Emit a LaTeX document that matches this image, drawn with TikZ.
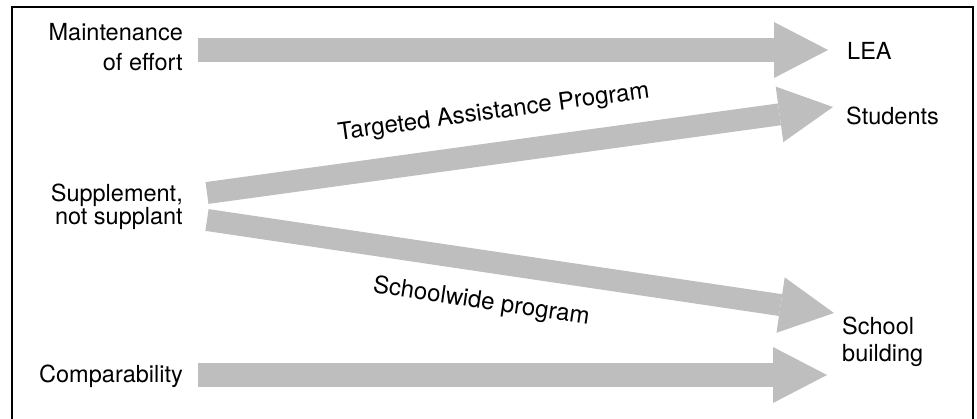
\documentclass[tikz,border=0pt]{standalone}
\usepackage{fontspec}
\setmainfont{TeX Gyre Heros}
\usetikzlibrary{arrows.meta}

\definecolor{flowgray}{RGB}{190,190,190}

\begin{document}
\begin{tikzpicture}[x=1pt, y=-1pt,
    lbl/.style={inner sep=0pt, font=\fontsize{23.5}{30}\selectfont},
    flow/.style={draw=flowgray, line width=24pt,
      -{Triangle[length=54pt, width=56pt, line width=0pt]}}]
  \useasboundingbox (0,0) rectangle (977,419);
  % Frame
  \draw[line width=1.2pt] (12,7) rectangle (973,430);
  % Requirements
  \node[lbl, anchor=east, align=right] (moe) at (183,47) {Maintenance\\of effort};
  \node[lbl, anchor=east, align=right, font=\fontsize{23.5}{23}\selectfont] (snsp) at (183,207) {Supplement,\\not supplant};
  \node[lbl, anchor=east] (comp) at (183,376) {Comparability};
  % Targets
  \node[lbl, anchor=west] (lea) at (847,50.5) {LEA};
  \node[lbl, anchor=west] (stud) at (846,116) {Students};
  \node[lbl, anchor=west, align=left, font=\fontsize{23.5}{27}\selectfont] (sbld) at (842,342) {School\\building};
  % Arrow ends
  \coordinate (moe-out) at (198,50);
  \coordinate (lea-in) at (828,50);
  \coordinate (snsp-up) at (207,193);
  \coordinate (stud-in) at (833,107);
  \coordinate (snsp-dn) at (207,220);
  \coordinate (sbld-in) at (834,313);
  \coordinate (comp-out) at (198,375);
  \coordinate (sbld-low) at (827,375);
  % Arrows
  \draw[flow] (moe-out) -- (lea-in);
  \draw[flow, line width=22pt] (snsp-up) -- node[lbl, font=\fontsize{24}{30}\selectfont, pos=0.467, sloped, above=18pt] {Targeted Assistance Program} (stud-in);
  \draw[flow, line width=22pt] (snsp-dn) -- node[lbl, font=\fontsize{24}{30}\selectfont, pos=0.447, sloped, below=18.5pt] {Schoolwide program} (sbld-in);
  \draw[flow] (comp-out) -- (sbld-low);
\end{tikzpicture}
\end{document}
